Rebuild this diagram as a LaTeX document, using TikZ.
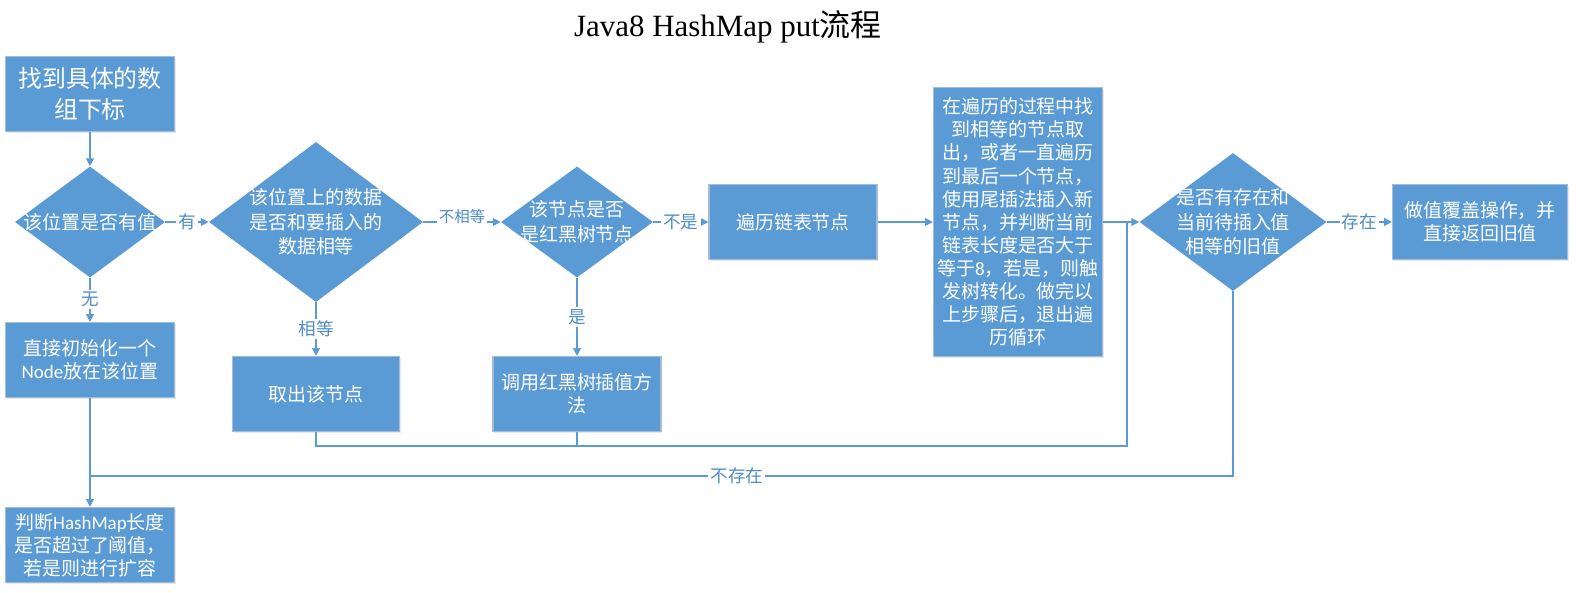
\documentclass[tikz,border=0pt]{standalone}
\usepackage{fontspec}
\setmainfont{Liberation Serif}
\newfontfamily\cjk{Noto Sans CJK SC}
\newfontfamily\lat{Carlito}
\usetikzlibrary{shapes.geometric, arrows.meta, shadows}

\definecolor{azul}{HTML}{5B9BD5}
\definecolor{borde}{HTML}{A6BCD6}
\definecolor{etiq}{HTML}{4F8CC9}

\tikzset{
  caja/.style={rectangle, fill=azul, draw=borde, line width=0.8pt, text=white,
    align=center, inner sep=2pt, minimum width=4.225cm, minimum height=1.875cm,
    font=\cjk\fontsize{13.5}{16.4}\selectfont,
    drop shadow={opacity=0.18, shadow xshift=0.8pt, shadow yshift=-0.9pt}},
  rombo/.style={diamond, fill=azul, text=white, align=center, inner sep=-4pt,
    font=\cjk\fontsize{13.5}{17.5}\selectfont},
  flecha/.style={draw=azul, line width=0.9pt, -{Triangle[length=5.5pt, width=5.5pt]}},
  linea/.style={draw=azul, line width=0.9pt},
  etiqueta/.style={fill=white, text=etiq, inner sep=1.5pt,
    font=\cjk\fontsize{12.5}{14}\selectfont},
}

\begin{document}
\begin{tikzpicture}[x=0.025cm, y=-0.025cm]
\useasboundingbox (0,0) rectangle (1576,592);

% ================================================================
%  Titulo
% ================================================================
\node[font=\fontsize{22}{25}\selectfont] (titulo) at (728,27)
    {Java8 HashMap put{\cjk 流程}};

% ================================================================
%  Fila principal (y = 222)
% ================================================================
\node[caja, font=\cjk\fontsize{17}{22}\selectfont] (buscar) at (90,94)
    {找到具体的数\\组下标};
\node[rombo, aspect=1.35, minimum width=3.75cm, minimum height=2.775cm] (tieneval) at (90,222)
    {该位置是否有值};
\node[rombo, aspect=1.34, minimum width=5.35cm, minimum height=4.0cm] (igual) at (316,222)
    {该位置上的数据\\是否和要插入的\\数据相等};
\node[rombo, aspect=1.37, minimum width=3.8cm, minimum height=2.775cm] (esarbol) at (577,222)
    {该节点是否\\是红黑树节点};
\node[caja, minimum width=4.2cm] (recorrer) at (793,222) {遍历链表节点};
\node[caja, minimum height=6.725cm] (lista) at (1018,222)
    {在遍历的过程中找\\到相等的节点取\\出，或者一直遍历\\到最后一个节点，\\
     使用尾插法插入新\\节点，并判断当前\\链表长度是否大于\\等于{\lat 8}，若是，则触\\
     发树转化。做完以\\上步骤后，退出遍\\历循环};
\node[rombo, aspect=1.355, minimum width=4.675cm, minimum height=3.45cm] (existe) at (1233,222)
    {是否有存在和\\当前待插入值\\相等的旧值};
\node[caja, minimum width=4.375cm] (cubrir) at (1480,222)
    {做值覆盖操作，并\\直接返回旧值};

% Cajas inferiores
\node[caja] (nuevo) at (90,360) {直接初始化一个\\{\lat Node}放在该位置};
\node[caja, minimum width=4.175cm] (sacar) at (316,394) {取出该节点};
\node[caja, minimum width=4.2cm] (insarbol) at (577,394) {调用红黑树插值方\\法};
\node[caja] (ampliar) at (90,545) {判断{\lat HashMap}长度\\是否超过了阈值，\\若是则进行扩容};

% Puntos de union
\coordinate (junta) at (1127,446);
\coordinate (noexiste) at (738,476);

% ================================================================
%  Conectores
% ================================================================
\draw[flecha] (buscar) -- (tieneval);
\draw[flecha] (tieneval) -- node[etiqueta]{有} (igual);
\draw[flecha] (igual) -- node[etiqueta, yshift=4pt, font=\cjk\fontsize{11}{13}\selectfont]{不相等} (esarbol);
\draw[flecha] (esarbol) -- node[etiqueta]{不是} (recorrer);
\draw[flecha] (recorrer) -- (lista);
\draw[flecha] (lista) -- (existe);
\draw[flecha] (existe) -- node[etiqueta]{存在} (cubrir);

\draw[flecha] (tieneval) -- node[etiqueta]{无} (nuevo);
\draw[flecha] (igual) -- node[etiqueta]{相等} (sacar);
\draw[flecha] (esarbol) -- node[etiqueta]{是} (insarbol);
\draw[flecha] (nuevo) -- (ampliar);

% Retorno hacia el rombo final
\draw[linea] (sacar.south) |- (junta) -- (junta |- existe.west);
\draw[linea] (insarbol.south) -- (insarbol.south |- junta);

% Rama "no existe"
\draw[linea] (existe.south) |- node[etiqueta, pos=0.717]{不存在} (nuevo.south |- noexiste);

\end{tikzpicture}
\end{document}
